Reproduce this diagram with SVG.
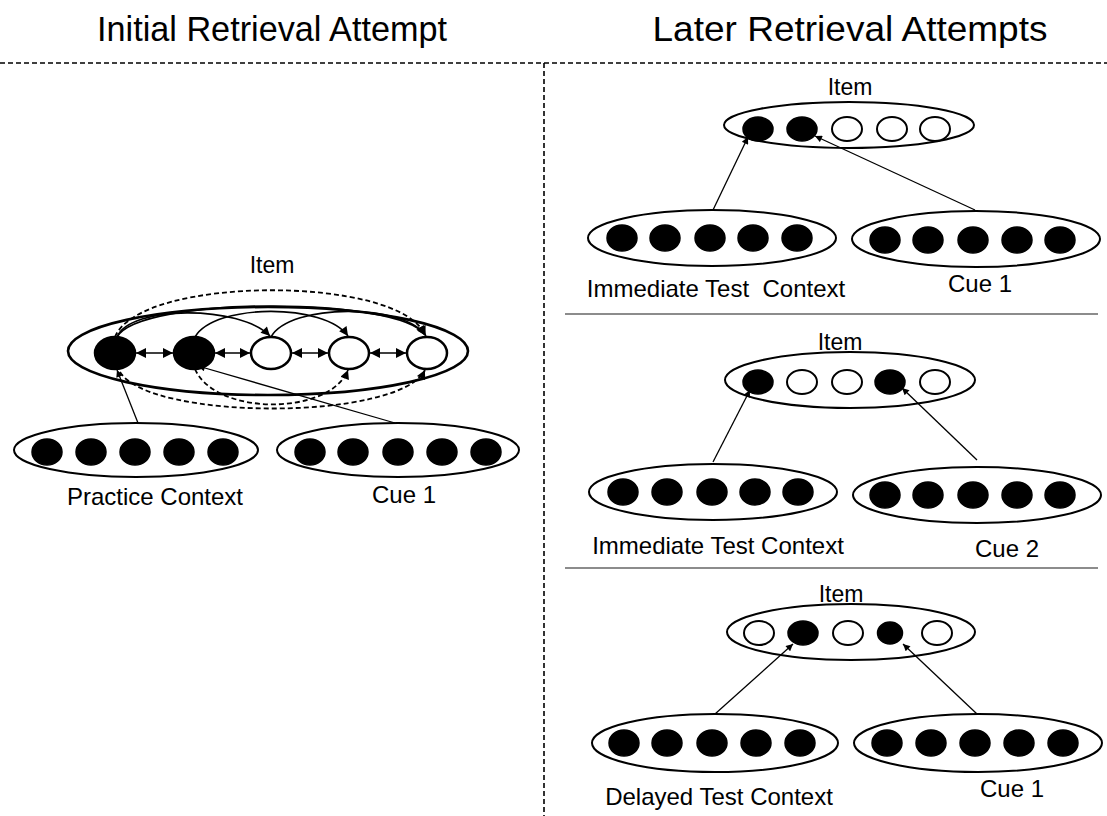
<svg xmlns="http://www.w3.org/2000/svg" width="1107" height="816" viewBox="0 0 1107 816">
  <style>
    .title { font-family: "Liberation Sans", Arial, sans-serif; font-size: 35px; fill: #000; text-anchor: middle; }
    .lbl { font-family: "Liberation Sans", Arial, sans-serif; font-size: 24px; fill: #000; text-anchor: middle; }
    .item { font-family: "Liberation Sans", Arial, sans-serif; font-size: 23px; fill: #000; text-anchor: middle; }
    .outer { fill: #fff; stroke: #000; stroke-width: 2; }
    .outer-l { fill: #fff; stroke: #000; stroke-width: 2.6; }
    .on { fill: #000; stroke: #000; stroke-width: 1.5; }
    .off { fill: #fff; stroke: #000; stroke-width: 2; }
    .on-l { fill: #000; stroke: #000; stroke-width: 2.5; }
    .off-l { fill: #fff; stroke: #000; stroke-width: 2.5; }
    .link { fill: none; stroke: #000; stroke-width: 1.3; marker-end: url(#head); }
    .arc { fill: none; stroke: #000; stroke-width: 1.6; marker-end: url(#headL); }
    .arc-d { fill: none; stroke: #000; stroke-width: 1.8; stroke-dasharray: 5 3; marker-end: url(#headL); }
    .dbl { fill: none; stroke: #000; stroke-width: 1.6; marker-start: url(#headL2); marker-end: url(#headL2); }
    .sep { fill: none; stroke: #000; stroke-width: 1.6; stroke-dasharray: 5 3; }
    .rule { stroke: #666; stroke-width: 1.5; }
  </style>
  <defs>
    <marker id="head" viewBox="0 0 10 10" refX="10" refY="5" markerUnits="userSpaceOnUse" markerWidth="9" markerHeight="7" orient="auto">
      <path d="M0,0 L10,5 L0,10 z" fill="#000"/>
    </marker>
    <marker id="headL" viewBox="0 0 10 10" refX="10" refY="5" markerUnits="userSpaceOnUse" markerWidth="10" markerHeight="9" orient="auto">
      <path d="M0,0 L10,5 L0,10 z" fill="#000"/>
    </marker>
    <marker id="headL2" viewBox="0 0 10 10" refX="10" refY="5" markerUnits="userSpaceOnUse" markerWidth="11" markerHeight="10" orient="auto-start-reverse">
      <path d="M0,0 L10,5 L0,10 z" fill="#000"/>
    </marker>
  </defs>

  <rect width="1107" height="816" fill="#fff"/>

  <!-- headings and panel dividers -->
  <g id="headings">
    <text class="title" x="272" y="41" textLength="350" lengthAdjust="spacingAndGlyphs">Initial Retrieval Attempt</text>
    <text class="title" x="850" y="41" textLength="395" lengthAdjust="spacingAndGlyphs">Later Retrieval Attempts</text>
  </g>
  <g id="dividers">
    <line class="sep" x1="0" y1="63" x2="1107" y2="63"/>
    <line class="sep" x1="544" y1="63" x2="544" y2="816" stroke-dasharray="4 2"/>
    <line class="rule" x1="565" y1="314" x2="1098" y2="314"/>
    <line class="rule" x1="565" y1="568" x2="1098" y2="568"/>
  </g>

  <!-- ===== Initial retrieval attempt ===== -->
  <g id="init-item">
    <text class="item" x="272" y="273">Item</text>
    <ellipse class="outer-l" cx="268" cy="351" rx="200" ry="44"/>
    <ellipse class="on-l" cx="115" cy="353" rx="20" ry="16"/>
    <ellipse class="on-l" cx="194" cy="353" rx="20" ry="16"/>
    <ellipse class="off-l" cx="271" cy="353" rx="20" ry="16"/>
    <ellipse class="off-l" cx="349" cy="353" rx="20" ry="16"/>
    <ellipse class="off-l" cx="427" cy="353" rx="20" ry="16"/>
  </g>
  <g id="init-context">
    <ellipse class="outer" cx="136" cy="450" rx="122" ry="27"/>
    <ellipse class="on" cx="47" cy="452" rx="15" ry="13"/>
    <ellipse class="on" cx="91" cy="452" rx="15" ry="13"/>
    <ellipse class="on" cx="135" cy="452" rx="15" ry="13"/>
    <ellipse class="on" cx="179" cy="452" rx="15" ry="13"/>
    <ellipse class="on" cx="223" cy="452" rx="15" ry="13"/>
    <text class="lbl" x="155" y="505">Practice Context</text>
  </g>
  <g id="init-cue">
    <ellipse class="outer" cx="398" cy="450" rx="121" ry="27"/>
    <ellipse class="on" cx="310" cy="452" rx="15" ry="13"/>
    <ellipse class="on" cx="353" cy="452" rx="15" ry="13"/>
    <ellipse class="on" cx="398" cy="452" rx="15" ry="13"/>
    <ellipse class="on" cx="442" cy="452" rx="15" ry="13"/>
    <ellipse class="on" cx="486" cy="452" rx="15" ry="13"/>
    <text class="lbl" x="404" y="503">Cue 1</text>
  </g>

  <!-- ===== Later attempt 1 ===== -->
  <g id="t1-item">
    <text class="item" x="850" y="95">Item</text>
    <ellipse class="outer" cx="849" cy="125" rx="125" ry="23"/>
    <ellipse class="on" cx="758" cy="129" rx="15" ry="12"/>
    <ellipse class="on" cx="802" cy="129" rx="15" ry="12"/>
    <ellipse class="off" cx="847" cy="129" rx="15" ry="12"/>
    <ellipse class="off" cx="892" cy="129" rx="15" ry="12"/>
    <ellipse class="off" cx="935" cy="129" rx="15" ry="12"/>
  </g>
  <g id="t1-context">
    <ellipse class="outer" cx="712" cy="238" rx="124" ry="28"/>
    <ellipse class="on" cx="622" cy="238" rx="15" ry="13"/>
    <ellipse class="on" cx="665" cy="238" rx="15" ry="13"/>
    <ellipse class="on" cx="710" cy="238" rx="15" ry="13"/>
    <ellipse class="on" cx="753" cy="238" rx="15" ry="13"/>
    <ellipse class="on" cx="797" cy="238" rx="15" ry="13"/>
    <text class="lbl" x="716" y="297" xml:space="preserve">Immediate Test  Context</text>
  </g>
  <g id="t1-cue">
    <ellipse class="outer" cx="976" cy="239" rx="124" ry="28"/>
    <ellipse class="on" cx="885" cy="240" rx="15" ry="13"/>
    <ellipse class="on" cx="928" cy="240" rx="15" ry="13"/>
    <ellipse class="on" cx="973" cy="240" rx="15" ry="13"/>
    <ellipse class="on" cx="1017" cy="240" rx="15" ry="13"/>
    <ellipse class="on" cx="1060" cy="240" rx="15" ry="13"/>
    <text class="lbl" x="980" y="292">Cue 1</text>
  </g>

  <!-- ===== Later attempt 2 ===== -->
  <g id="t2-item">
    <ellipse class="outer" cx="850" cy="380" rx="125" ry="28"/>
    <text class="item" x="840" y="350">Item</text>
    <ellipse class="on" cx="758" cy="382" rx="15" ry="12"/>
    <ellipse class="off" cx="802" cy="382" rx="15" ry="12"/>
    <ellipse class="off" cx="847" cy="382" rx="15" ry="12"/>
    <ellipse class="on" cx="890" cy="382" rx="15" ry="12"/>
    <ellipse class="off" cx="935" cy="382" rx="15" ry="12"/>
  </g>
  <g id="t2-context">
    <ellipse class="outer" cx="713" cy="492" rx="124" ry="28"/>
    <ellipse class="on" cx="623" cy="492" rx="15" ry="13"/>
    <ellipse class="on" cx="667" cy="492" rx="15" ry="13"/>
    <ellipse class="on" cx="712" cy="492" rx="15" ry="13"/>
    <ellipse class="on" cx="755" cy="492" rx="15" ry="13"/>
    <ellipse class="on" cx="798" cy="492" rx="15" ry="13"/>
    <text class="lbl" x="718" y="554">Immediate Test Context</text>
  </g>
  <g id="t2-cue">
    <ellipse class="outer" cx="977" cy="495" rx="124" ry="28"/>
    <ellipse class="on" cx="885" cy="495" rx="15" ry="13"/>
    <ellipse class="on" cx="928" cy="495" rx="15" ry="13"/>
    <ellipse class="on" cx="973" cy="495" rx="15" ry="13"/>
    <ellipse class="on" cx="1017" cy="495" rx="15" ry="13"/>
    <ellipse class="on" cx="1060" cy="495" rx="15" ry="13"/>
    <text class="lbl" x="1007" y="557">Cue 2</text>
  </g>

  <!-- ===== Later attempt 3 ===== -->
  <g id="t3-item">
    <ellipse class="outer" cx="851" cy="632" rx="124" ry="28"/>
    <text class="item" x="841" y="602">Item</text>
    <ellipse class="off" cx="759" cy="633" rx="15" ry="12"/>
    <ellipse class="on" cx="803" cy="633" rx="15" ry="12"/>
    <ellipse class="off" cx="848" cy="633" rx="15" ry="12"/>
    <ellipse class="on" cx="890" cy="633" rx="12.5" ry="11"/>
    <ellipse class="off" cx="937" cy="633" rx="15" ry="12"/>
  </g>
  <g id="t3-context">
    <ellipse class="outer" cx="715" cy="743" rx="123" ry="29"/>
    <ellipse class="on" cx="624" cy="743" rx="15" ry="13"/>
    <ellipse class="on" cx="667" cy="743" rx="15" ry="13"/>
    <ellipse class="on" cx="712" cy="743" rx="15" ry="13"/>
    <ellipse class="on" cx="756" cy="743" rx="15" ry="13"/>
    <ellipse class="on" cx="800" cy="743" rx="15" ry="13"/>
    <text class="lbl" x="719" y="805">Delayed Test Context</text>
  </g>
  <g id="t3-cue">
    <ellipse class="outer" cx="978" cy="743" rx="124" ry="29"/>
    <ellipse class="on" cx="887" cy="743" rx="15" ry="13"/>
    <ellipse class="on" cx="931" cy="743" rx="15" ry="13"/>
    <ellipse class="on" cx="975" cy="743" rx="15" ry="13"/>
    <ellipse class="on" cx="1019" cy="743" rx="15" ry="13"/>
    <ellipse class="on" cx="1063" cy="743" rx="15" ry="13"/>
    <text class="lbl" x="1012" y="797">Cue 1</text>
  </g>

  <!-- connectors -->
  <g id="connectors">
    <!-- associations among item features -->
    <path class="dbl" d="M136,353 H173"/>
    <path class="dbl" d="M215,353 H250"/>
    <path class="dbl" d="M292,353 H328"/>
    <path class="dbl" d="M370,353 H406"/>
    <path class="arc" d="M117,337 C130,305 240,305 270,336"/>
    <path class="arc" d="M117,337 C140,296 400,296 425,335"/>
    <path class="arc" d="M195,337 C215,303 325,303 348,336"/>
    <path class="arc" d="M271,337 C290,303 405,303 426,336"/>
    <path class="arc-d" d="M115,337 C140,275 400,275 425,335"/>
    <path class="arc-d" d="M120,372 C150,421 400,421 425,370"/>
    <path class="arc-d" d="M195,369 C215,416 330,416 348,370"/>
    <!-- cue / context to item -->
    <line class="link" x1="138" y1="423" x2="117" y2="370"/>
    <line class="link" x1="395" y1="423" x2="198" y2="366"/>
    <line class="link" x1="713" y1="210" x2="748" y2="137"/>
    <line class="link" x1="975" y1="210" x2="815" y2="136"/>
    <line class="link" x1="713" y1="462" x2="750" y2="390"/>
    <line class="link" x1="977" y1="460" x2="902" y2="388"/>
    <line class="link" x1="715" y1="714" x2="793" y2="644"/>
    <line class="link" x1="977" y1="714" x2="903" y2="644"/>
  </g>
</svg>
